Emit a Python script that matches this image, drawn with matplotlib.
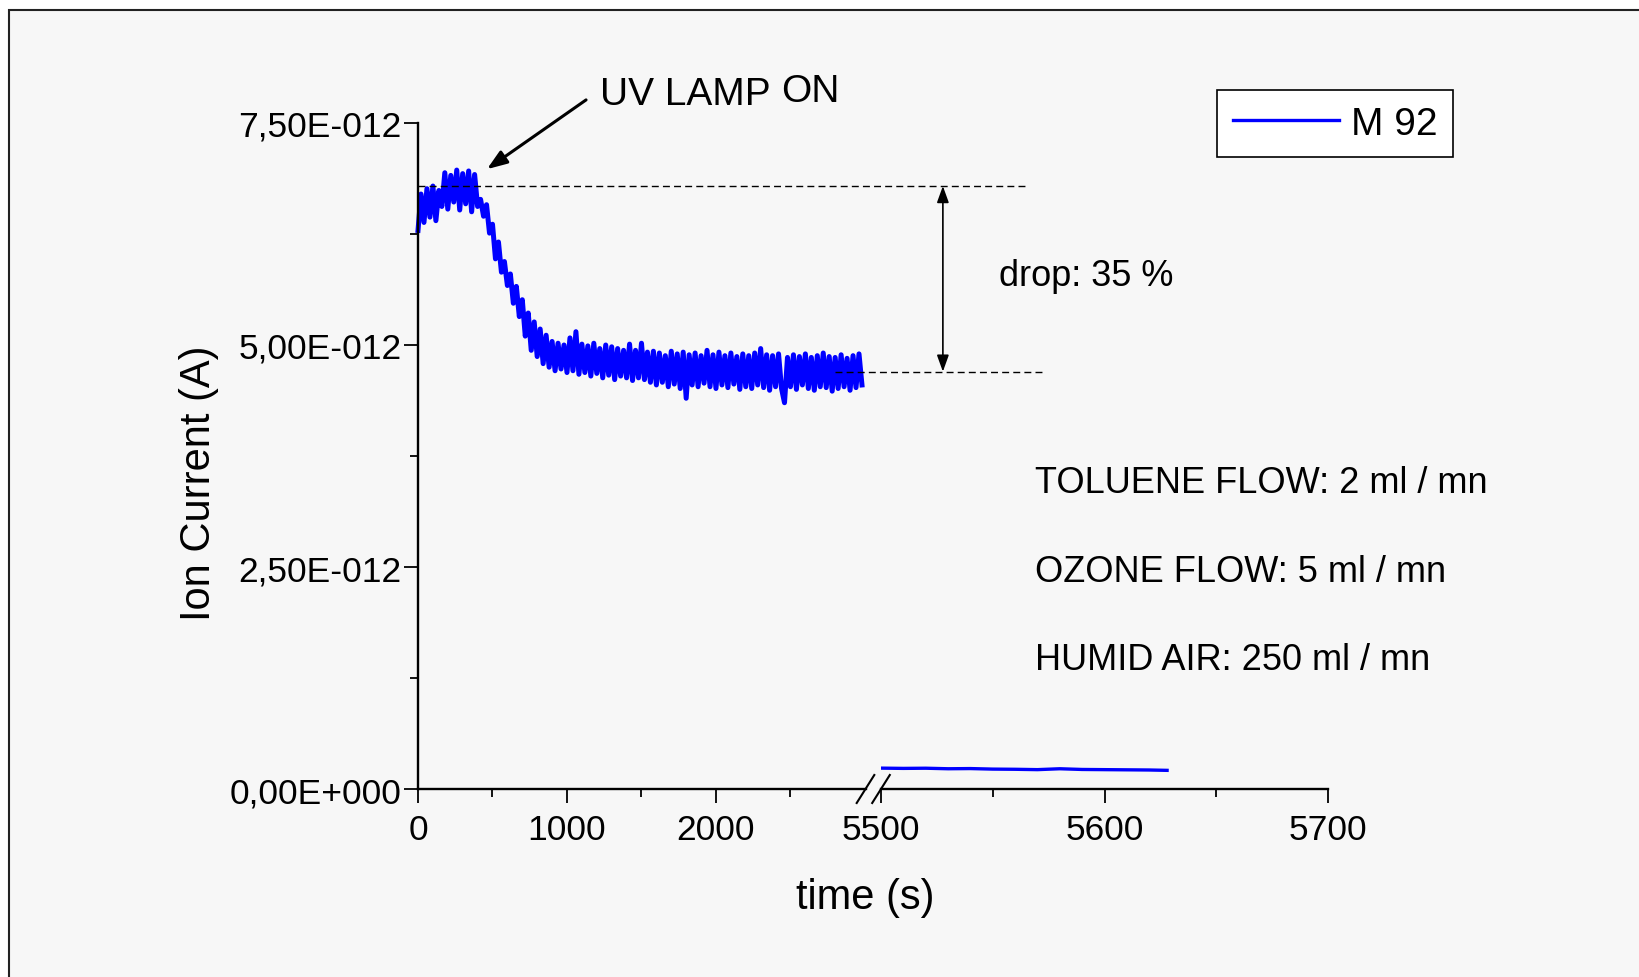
import numpy as np
import matplotlib.pyplot as plt
from matplotlib.patches import Rectangle
from matplotlib.lines import Line2D

plt.rcParams['font.family'] = ['Liberation Sans', 'DejaVu Sans']

# ion current M 92, in units of 1E-12 A, every 20 s
time_1 = np.arange(0, 3000, 20)
current_1 = [
    6.29, 6.70, 6.38, 6.76, 6.44, 6.79, 6.40, 6.74, 6.56, 6.94,
    6.53, 6.91, 6.61, 6.97, 6.52, 6.93, 6.59, 6.96, 6.50, 6.92,
    6.56, 6.64, 6.45, 6.58, 6.26, 6.36, 5.97, 6.16, 5.82, 5.94,
    5.67, 5.80, 5.47, 5.66, 5.32, 5.51, 5.10, 5.36, 4.94, 5.26,
    4.87, 5.18, 4.79, 5.11, 4.75, 5.04, 4.71, 5.02, 4.73, 5.00,
    4.69, 5.08, 4.71, 5.15, 4.67, 5.01, 4.69, 4.99, 4.65, 5.02,
    4.68, 4.96, 4.63, 5.00, 4.66, 4.98, 4.61, 4.96, 4.65, 4.94,
    4.63, 5.01, 4.60, 4.94, 4.63, 5.02, 4.61, 4.92, 4.58, 4.93,
    4.55, 4.91, 4.58, 4.88, 4.53, 4.93, 4.56, 4.90, 4.51, 4.92,
    4.40, 4.89, 4.55, 4.91, 4.53, 4.88, 4.57, 4.94, 4.53, 4.89,
    4.51, 4.92, 4.55, 4.88, 4.52, 4.91, 4.56, 4.87, 4.50, 4.90,
    4.53, 4.88, 4.51, 4.91, 4.55, 4.96, 4.52, 4.89, 4.49, 4.88,
    4.53, 4.90, 4.51, 4.35, 4.86, 4.53, 4.89, 4.50, 4.87, 4.55,
    4.90, 4.51, 4.86, 4.49, 4.88, 4.53, 4.91, 4.52, 4.87, 4.48,
    4.86, 4.51, 4.89, 4.53, 4.85, 4.49, 4.88, 4.52, 4.90, 4.55,
]

# after the break
time_2 = [5500, 5510, 5520, 5530, 5540, 5550, 5560, 5570, 5580, 5590,
          5600, 5610, 5620, 5628]
current_2 = [0.235, 0.232, 0.234, 0.228, 0.230, 0.224, 0.222, 0.218, 0.228,
             0.220, 0.218, 0.216, 0.214, 0.210]

y_ticks = [0, 2.5, 5.0, 7.5]
y_tick_labels = ['0,00E+000', '2,50E-012', '5,00E-012', '7,50E-012']
y_minor = [1.25, 3.75, 6.25]
x_ticks_1 = [0, 1000, 2000]
x_minor_1 = [500, 1500, 2500]
x_ticks_2 = [5500, 5600, 5700]
x_minor_2 = [5550, 5650]

level_before = 6.79
level_after = 4.70
conditions = ['TOLUENE FLOW: 2 ml / mn', 'OZONE FLOW: 5 ml / mn',
              'HUMID AIR: 250 ml / mn']

W, H = 1640, 978
def fx(px):
    return px / W
def fy(py):
    return 1 - py / H

fig = plt.figure(figsize=(16.4, 9.78), dpi=100)
fig.patch.set_facecolor('white')
fig.add_artist(Rectangle((fx(8.5), -0.05), 1.1, fy(11) + 0.05,
                         transform=fig.transFigure, facecolor='#f7f7f7',
                         edgecolor='#222222', linewidth=1.5, zorder=-10))

ax1 = fig.add_axes([fx(418), fy(790), fx(866) - fx(418), fy(124) - fy(790)])
ax2 = fig.add_axes([fx(881), fy(790), fx(1328) - fx(881), fy(124) - fy(790)],
                   sharey=ax1)

blue = '#0000ff'
ax1.plot(time_1, current_1, color=blue, lw=3.6, clip_on=False)
ax2.plot(time_2, current_2, color=blue, lw=2.4)

ax1.set_xlim(0, 3007)
ax2.set_xlim(5500, 5700)
ax1.set_ylim(0, 7.5)

for ax in (ax1, ax2):
    ax.set_facecolor('none')
    ax.spines['top'].set_visible(False)
    ax.spines['right'].set_visible(False)
    ax.spines['left'].set_linewidth(1.7)
    ax.spines['bottom'].set_linewidth(1.7)
    ax.tick_params(which='major', direction='out', length=10, width=1.3,
                   labelsize=25.5)
    ax.tick_params(which='minor', direction='out', length=5.5, width=1.3)
    ax.tick_params(axis='x', pad=7.5)
ax2.spines['left'].set_visible(False)

ax1.set_yticks(y_ticks, y_tick_labels)
ax1.set_yticks(y_minor, minor=True)
ax1.tick_params(axis='y', pad=2)
ax1.set_xticks(x_ticks_1)
ax1.set_xticks(x_minor_1, minor=True)
ax2.set_xticks(x_ticks_2)
ax2.set_xticks(x_minor_2, minor=True)
ax2.tick_params(axis='y', which='both', left=False, labelleft=False)

# axis break marks
for xc in (865.5, 881):
    fig.add_artist(Line2D([fx(xc - 8.8), fx(xc + 8.8)], [fy(804), fy(776)],
                          transform=fig.transFigure, color='black', lw=1.5))

fig.text(fx(199), fy(483), 'Ion Current (A)', rotation=90, ha='center',
         va='center', fontsize=30)
fig.text(fx(865), fy(898), 'time (s)', ha='center', va='center', fontsize=30)

# drop levels
ax1.plot([0, 4087], [level_before] * 2, color='black', lw=1.0,
         ls=(0, (5, 3)), clip_on=False)
ax1.plot([2798, 4208], [level_after] * 2, color='black', lw=1.0,
         ls=(0, (5, 3)), clip_on=False)
ax1.annotate('', xy=(3523, level_after), xytext=(3523, level_before),
             arrowprops=dict(arrowstyle='<|-|>,head_length=0.5,head_width=0.18',
                             color='black', lw=1.2, mutation_scale=20,
                             shrinkA=0, shrinkB=0),
             annotation_clip=False)
ax1.text(3899, 5.78, 'drop: 35 %', fontsize=26, va='center')

ax1.annotate('', xy=(463, 6.98), xytext=(1128, 7.76),
             arrowprops=dict(arrowstyle='-|>,head_length=0.6,head_width=0.22',
                             color='black', lw=2.2, mutation_scale=20,
                             shrinkA=0, shrinkB=0),
             annotation_clip=False)
fig.text(fx(600), fy(105), 'UV LAMP', fontsize=28, va='baseline')
fig.text(fx(781), fy(102), 'ON', fontsize=28, va='baseline')

for label, py in zip(conditions, [484, 573, 661]):
    fig.text(fx(1035), fy(py), label, fontsize=26, va='center')

leg = fig.legend(handles=[Line2D([], [], color=blue, lw=2.4)], labels=['M 92'],
                 loc='upper left', bbox_to_anchor=(fx(1217), fy(91)),
                 fontsize=28, frameon=True, fancybox=False, framealpha=1,
                 edgecolor='black', borderpad=0.4, handlelength=2.75,
                 handletextpad=0.3, borderaxespad=0)
leg.get_frame().set_linewidth(1.2)

plt.savefig('out.png', dpi=100, facecolor='white')
